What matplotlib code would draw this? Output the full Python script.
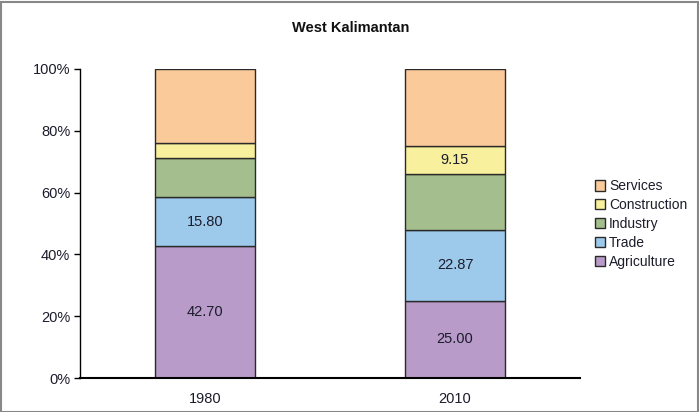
import matplotlib
matplotlib.use("Agg")
import matplotlib.pyplot as plt
from matplotlib.patches import Rectangle
from matplotlib.ticker import PercentFormatter

plt.rcParams['font.family'] = ['Liberation Sans', 'DejaVu Sans']

# --- Datos ---
years = ["1980", "2010"]
sectors = ["Agriculture", "Trade", "Industry", "Construction", "Services"]
agriculture = [42.70, 25.00]
trade = [15.80, 22.87]
industry = [12.8, 18.2]
construction = [4.9, 9.15]
services = [23.8, 24.78]
colors = ["#B99BC9", "#9DC9EB", "#A4BE8E", "#F8F09C", "#FBCA9A"]

# etiquetas que se muestran dentro de las barras (None = sin etiqueta)
shown = {
    "Agriculture": ["42.70", "25.00"],
    "Trade": ["15.80", "22.87"],
    "Construction": [None, "9.15"],
}

series = [agriculture, trade, industry, construction, services]

fig = plt.figure(figsize=(6.99, 4.12), dpi=100)
ax = fig.add_axes([80 / 699, 34 / 412, 500 / 699, 309 / 412])

x = range(len(years))
bottom = [0, 0]
text_color = "#1c1c2c"
for name, vals, col in zip(sectors, series, colors):
    bars = ax.bar(x, vals, width=0.4, bottom=bottom, color=col,
                  edgecolor="#2a2a2a", linewidth=1.0, label=name)
    if name in shown:
        for i, b in enumerate(bars):
            lab = shown[name][i]
            if lab:
                ax.text(b.get_x() + b.get_width() / 2, bottom[i] + vals[i] / 2, lab,
                        ha="center", va="center", fontsize=10.5, color=text_color)
    bottom = [bt + v for bt, v in zip(bottom, vals)]

ax.set_xlim(-0.5, 1.5)
ax.set_ylim(0, 100)
ax.set_yticks([0, 20, 40, 60, 80, 100])
ax.yaxis.set_major_formatter(PercentFormatter(decimals=0))
ax.set_xticks(list(x))
ax.set_xticklabels(years)
ax.tick_params(axis="x", length=0, pad=10, labelsize=10.5, colors=text_color)
ax.tick_params(axis="y", direction="out", length=4, width=1, labelsize=10.5,
               colors="#000000", labelcolor=text_color, pad=3)
for s in ["top", "right"]:
    ax.spines[s].set_visible(False)
ax.spines["left"].set_linewidth(1.0)
ax.spines["bottom"].set_linewidth(1.5)

fig.suptitle("West Kalimantan", x=351 / 699, y=1 - 28 / 412, va="center",
             fontsize=10.5, fontweight="bold", color="#111111")

h, l = ax.get_legend_handles_labels()
leg = fig.legend(h[::-1], l[::-1], loc="center left",
                 bbox_to_anchor=(595 / 699, 1 - 224 / 412), frameon=False,
                 fontsize=10, handlelength=0.75, handleheight=0.75,
                 handletextpad=0.25, labelspacing=0.35, borderaxespad=0,
                 borderpad=0)
for t in leg.get_texts():
    t.set_color(text_color)

# marco gris alrededor de la figura
fig.patches.append(Rectangle((0.5 / 699, 0.5 / 412), 697.5 / 699, 409.5 / 412,
                             transform=fig.transFigure, fill=False,
                             edgecolor="#888888", linewidth=1.5))

fig.savefig("out.png", dpi=100)
